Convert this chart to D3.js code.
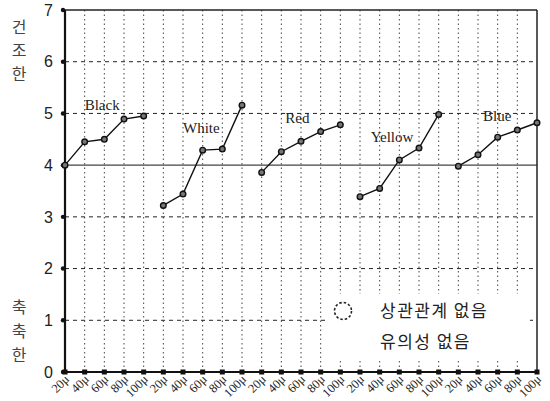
<!DOCTYPE html>
<html>
<head>
<meta charset="utf-8">
<style>
  body { margin: 0; background: #fff; }
  svg { display: block; }
</style>
</head>
<body>
<div id="chart"></div>
<script src="https://d3js.org/d3.v7.min.js"></script>
<script>
// data
var colors = ["Black", "White", "Red", "Yellow", "Blue"];
var sizes = ["20μ", "40μ", "60μ", "80μ", "100μ"];
var black = [4.0, 4.45, 4.5, 4.89, 4.95];
var white = [3.22, 3.44, 4.29, 4.31, 5.16];
var red = [3.86, 4.26, 4.46, 4.65, 4.78];
var yellow = [3.39, 3.55, 4.10, 4.33, 4.98];
var blue = [3.98, 4.20, 4.54, 4.68, 4.82];
var yTicks = [0, 1, 2, 3, 4, 5, 6, 7];

var series = [black, white, red, yellow, blue];

var width = 550, height = 401;
var margin = {top: 10, right: 13, bottom: 29, left: 65};

var svg = d3.select("#chart").append("svg")
    .attr("width", width)
    .attr("height", height);

var keys = [];
colors.forEach(function(c) { sizes.forEach(function(s) { keys.push(c + "|" + s); }); });

var x = d3.scalePoint().domain(keys).range([margin.left, width - margin.right]);
var y = d3.scaleLinear().domain([0, 7]).range([height - margin.bottom, margin.top]);

var x0 = margin.left, x1 = width - margin.right;
var y0 = y(0), y1 = y(7);

// white legend box covers part of the grid, so grid first
var grid = svg.append("g");

// vertical dotted gridlines
grid.selectAll("line.v")
  .data(keys.slice(1, keys.length - 1))
  .enter().append("line")
    .attr("x1", function(d) { return x(d); })
    .attr("x2", function(d) { return x(d); })
    .attr("y1", y1)
    .attr("y2", y0)
    .attr("stroke", "#444")
    .attr("stroke-width", 1)
    .attr("stroke-dasharray", "1.5,3");

// horizontal dashed gridlines
grid.selectAll("line.h")
  .data([1, 2, 3, 5, 6])
  .enter().append("line")
    .attr("x1", x0)
    .attr("x2", x1)
    .attr("y1", function(d) { return y(d); })
    .attr("y2", function(d) { return y(d); })
    .attr("stroke", "#222")
    .attr("stroke-width", 1)
    .attr("stroke-dasharray", "4,4");

// reference line at 4
svg.append("line")
    .attr("x1", x0).attr("x2", x1)
    .attr("y1", y(4)).attr("y2", y(4))
    .attr("stroke", "#444")
    .attr("stroke-width", 1.3);

// legend box
svg.append("rect")
    .attr("x", 326).attr("y", 294)
    .attr("width", 204).attr("height", 66)
    .attr("fill", "#fff");

// frame
svg.append("line").attr("x1", x0).attr("x2", x1).attr("y1", y1).attr("y2", y1)
    .attr("stroke", "#222").attr("stroke-width", 1.5);
svg.append("line").attr("x1", x1).attr("x2", x1).attr("y1", y1).attr("y2", y0)
    .attr("stroke", "#222").attr("stroke-width", 1.5);
svg.append("line").attr("x1", x0).attr("x2", x0).attr("y1", y1).attr("y2", y0)
    .attr("stroke", "#111").attr("stroke-width", 2.2);
svg.append("line").attr("x1", x0).attr("x2", x1).attr("y1", y0).attr("y2", y0)
    .attr("stroke", "#111").attr("stroke-width", 2.2);

// y axis ticks and labels
svg.selectAll("circle.yt")
  .data(yTicks)
  .enter().append("circle")
    .attr("cx", x0 - 2)
    .attr("cy", function(d) { return y(d); })
    .attr("r", 2.2)
    .attr("fill", "#111");

svg.selectAll("text.yl")
  .data(yTicks)
  .enter().append("text")
    .attr("x", 53)
    .attr("y", function(d) { return y(d); })
    .attr("dy", "0.36em")
    .attr("text-anchor", "end")
    .attr("font-family", "Liberation Sans, Arial, sans-serif")
    .attr("font-size", 16)
    .attr("fill", "#222")
    .text(function(d) { return d; });

// x axis ticks and labels
svg.selectAll("rect.xt")
  .data(keys)
  .enter().append("rect")
    .attr("x", function(d) { return x(d) - 2.5; })
    .attr("y", y0 - 2.5)
    .attr("width", 5)
    .attr("height", 5)
    .attr("fill", "#111");

svg.selectAll("text.xl")
  .data(keys)
  .enter().append("text")
    .attr("transform", function(d) { return "translate(" + (x(d) + 5) + "," + (y0 + 8) + ") rotate(-45)"; })
    .attr("text-anchor", "end")
    .attr("font-family", "Liberation Serif, Times New Roman, serif")
    .attr("font-size", 12.5)
    .attr("fill", "#222")
    .text(function(d) { return d.split("|")[1]; });

// side labels
var sideTop = ["건", "조", "한"];
var sideBottom = ["축", "축", "한"];
svg.selectAll("text.st")
  .data(sideTop)
  .enter().append("text")
    .attr("x", 19)
    .attr("y", function(d, i) { return 27 + i * 23.5; })
    .attr("dy", "0.36em")
    .attr("text-anchor", "middle")
    .attr("font-family", "Noto Sans CJK KR, sans-serif")
    .attr("font-size", 16)
    .attr("fill", "#444")
    .text(function(d) { return d; });
svg.selectAll("text.sb")
  .data(sideBottom)
  .enter().append("text")
    .attr("x", 19)
    .attr("y", function(d, i) { return 307 + i * 24; })
    .attr("dy", "0.36em")
    .attr("text-anchor", "middle")
    .attr("font-family", "Noto Sans CJK KR, sans-serif")
    .attr("font-size", 16)
    .attr("fill", "#444")
    .text(function(d) { return d; });

// series lines and points
var line = d3.line()
    .x(function(d) { return x(d.key); })
    .y(function(d) { return y(d.v); });

// label placement: [dx from 40μ tick, value]
var labelPos = [[0, 5.18], [0, 4.72], [4, 4.91], [-9, 4.56], [5, 4.95]];

series.forEach(function(vals, si) {
  var pts = vals.map(function(v, i) { return {key: colors[si] + "|" + sizes[i], v: v}; });
  var g = svg.append("g");
  g.append("path")
    .datum(pts)
    .attr("d", line)
    .attr("fill", "none")
    .attr("stroke", "#111")
    .attr("stroke-width", 1.4);
  g.selectAll("circle")
    .data(pts)
    .enter().append("circle")
      .attr("cx", function(d) { return x(d.key); })
      .attr("cy", function(d) { return y(d.v); })
      .attr("r", 2.8)
      .attr("fill", "#777")
      .attr("stroke", "#111")
      .attr("stroke-width", 1.4);
  g.append("text")
    .attr("x", x(colors[si] + "|" + sizes[1]) + labelPos[si][0])
    .attr("y", y(labelPos[si][1]))
    .attr("dy", "0.36em")
    .attr("font-family", "Liberation Serif, Times New Roman, serif")
    .attr("font-size", 15)
    .attr("fill", "#222")
    .text(colors[si]);
});

// legend
svg.append("circle")
    .attr("cx", 343).attr("cy", 311).attr("r", 8.5)
    .attr("fill", "none")
    .attr("stroke", "#222")
    .attr("stroke-width", 1.6)
    .attr("stroke-dasharray", "2.5,2");
svg.append("text")
    .attr("x", 380).attr("y", 311).attr("dy", "0.36em")
    .attr("font-family", "Noto Sans CJK KR, sans-serif")
    .attr("font-size", 17)
    .attr("letter-spacing", 1.5)
    .attr("fill", "#222")
    .text("상관관계 없음");
svg.append("text")
    .attr("x", 380).attr("y", 342).attr("dy", "0.36em")
    .attr("font-family", "Noto Sans CJK KR, sans-serif")
    .attr("font-size", 17)
    .attr("letter-spacing", 1.5)
    .attr("fill", "#222")
    .text("유의성 없음");
</script>
</body>
</html>
